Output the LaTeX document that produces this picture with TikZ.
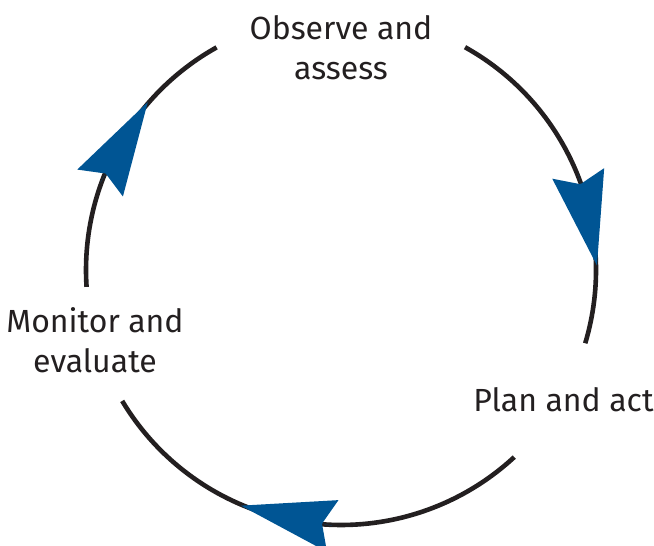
\documentclass[tikz,border=0pt]{standalone}
\usepackage{fontspec}
\setsansfont{Fira Sans}
\usetikzlibrary{arrows.meta}
\definecolor{ink}{RGB}{35,31,32}
\definecolor{cycleblue}{RGB}{0,85,148}

\begin{document}
\begin{tikzpicture}[
    x                   = 1pt,
    y                   = 1pt,
    every node/.style   = {font=\sffamily\fontsize{32}{40}\selectfont, text=ink, align=center, inner sep=0pt},
    cycle arc/.style    = {draw=ink, line width=4.6pt},
    cycle head/.style   = {draw=cycleblue, line width=0.1pt,
                           -{Stealth[length=94pt, width=53pt, inset=11pt, line width=0pt]}}
  ]
\useasboundingbox (0,0) rectangle (654,546);
\coordinate (hub) at (341,276);
\node[anchor=base] (observe) at (341,466) {Observe and\\assess};
\node[anchor=base] (plan)    at (563.5,134) {Plan and act};
\node[anchor=base] (monitor) at (95,173) {Monitor and\\evaluate};
% the three arcs of the cycle
\draw[cycle arc] ([shift={(60.9:255pt)}]hub) arc[start angle=60.9, end angle=-16.7, radius=255pt];
\draw[cycle arc] ([shift={(-47.2:255pt)}]hub) arc[start angle=-47.2, end angle=-149.1, radius=255pt];
\draw[cycle arc] ([shift={(183.8:255pt)}]hub) arc[start angle=183.8, end angle=119.2, radius=255pt];
% arrow heads
\draw[cycle head] ([shift={(22:256pt)}]hub) -- ([shift={(1:256pt)}]hub);
\draw[cycle head] ([shift={(-92:256pt)}]hub) -- ([shift={(-113:256pt)}]hub);
\draw[cycle head] ([shift={(160:256pt)}]hub) -- ([shift={(139:256pt)}]hub);
\end{tikzpicture}
\end{document}
